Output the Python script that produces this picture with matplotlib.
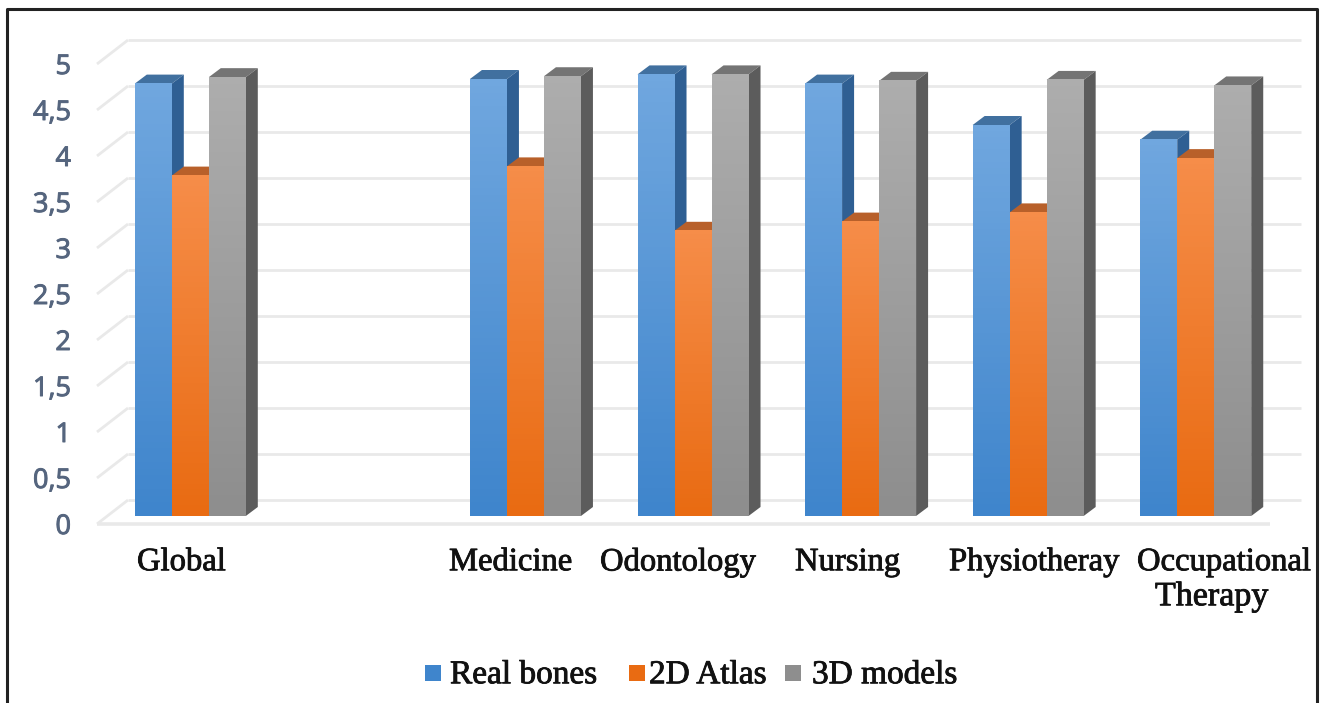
import matplotlib

matplotlib.use("Agg")

import matplotlib.patheffects as pe
import matplotlib.pyplot as plt
import numpy as np
from matplotlib.colors import LinearSegmentedColormap
from matplotlib.lines import Line2D
from matplotlib.patches import Polygon, Rectangle

W, H = 1322, 703

# one blank slot sits between Global and the faculties
categories = ["Global", "", "Medicine", "Odontology", "Nursing", "Physiotheray", "Occupational"]
real_bones = [4.7, np.nan, 4.75, 4.8, 4.7, 4.25, 4.09]
atlas_2d = [3.7, np.nan, 3.8, 3.1, 3.2, 3.3, 3.89]
models_3d = [4.77, np.nan, 4.78, 4.8, 4.73, 4.74, 4.68]
series_names = ["Real bones", "2D Atlas", "3D models"]
yticks = [0, 0.5, 1, 1.5, 2, 2.5, 3, 3.5, 4, 4.5, 5]
ytick_labels = ["0", "0,5", "1", "1,5", "2", "2,5", "3", "3,5", "4", "4,5", "5"]

# (front top, front bottom, side top, side bottom, cap)
palette = [
    ("#70A7DF", "#3F85CC", "#3D6A9C", "#2F5F93", "#41709F"),
    ("#F68D49", "#E96B12", "#B05A22", "#A04E18", "#B8602A"),
    ("#ADADAD", "#8E8E8E", "#727272", "#5C5C5C", "#747474"),
]
GRID = "#E9E9E9"
TICK_COLOR = "#55657E"

fig = plt.figure(figsize=(W / 100, H / 100), dpi=100, facecolor="white")

# axes box is the front floor edge up to the value 5, depth is faked with offsets
left, right, base, top = 97, 1270, 524, 64
ax = fig.add_axes([left / W, 1 - base / H, (right - left) / W, (base - top) / H])
ax.set_xlim(0, len(categories))
ax.set_ylim(0, 5)
ax.axis("off")

px_x = len(categories) / (right - left)
px_y = 5 / (base - top)
depth_x, depth_y = 31 * px_x, 24 * px_y  # whole floor depth
bar_w = 37 * px_x
bar_dx, bar_dy = 10 * px_x, 8 * px_y  # gap from the front floor edge
side_x, side_y = 12 * px_x, 9 * px_y  # depth of a bar


def line(xs, ys, color=GRID, lw=2.0, z=1):
    ax.add_line(Line2D(xs, ys, color=color, lw=lw, clip_on=False, zorder=z, solid_capstyle="butt"))


n = len(categories)
for v in yticks:
    line([0, depth_x], [v, v + depth_y])
    line([depth_x, n + depth_x], [v + depth_y, v + depth_y])
line([0, n], [0, 0], lw=2.6)

series = [real_bones, atlas_2d, models_3d]
z = 3
for i in range(n):
    if not categories[i]:
        continue
    x0 = i + (167.6 - 3 * 37) / 2 * px_x + bar_dx - 0.5 * px_x
    for s, values in enumerate(series):
        v = values[i]
        c_top, c_bot, c_side_t, c_side_b, c_cap = palette[s]
        xl = x0 + s * bar_w
        xr = xl + bar_w
        yb, yt = bar_dy, bar_dy + v

        # cap and side first, the front face goes over them
        ax.add_patch(Polygon([(xl, yt), (xr, yt), (xr + side_x, yt + side_y), (xl + side_x, yt + side_y)],
                             facecolor=c_cap, edgecolor="none", zorder=z, clip_on=False))
        side = Polygon([(xr, yb), (xr + side_x, yb + side_y), (xr + side_x, yt + side_y), (xr, yt)],
                       facecolor=c_side_b, edgecolor="none", zorder=z, clip_on=False)
        ax.add_patch(side)
        z += 1
        ax.bar(xl, v, width=bar_w, bottom=yb, align="edge", color=c_bot, zorder=z, clip_on=False)
        cmap = LinearSegmentedColormap.from_list("face", [c_top, c_bot])
        ax.imshow(np.linspace(0, 1, 64).reshape(-1, 1), cmap=cmap, aspect="auto",
                  extent=(xl, xr, yb, yt), origin="upper", zorder=z + 0.5, clip_on=False)
        z += 1

ax.set_xlim(0, n)
ax.set_ylim(0, 5)

# heavier strokes on all text, the label type is quite dark
tick_fx = [pe.withStroke(linewidth=0.7, foreground=TICK_COLOR)]
for v, lab in zip(yticks, ytick_labels):
    ax.text(-26 * px_x, v - 3 * px_y, lab, ha="right", va="center", fontsize=19.5, color=TICK_COLOR,
            family="Open Sans", clip_on=False, path_effects=tick_fx)

serif_fx = [pe.withStroke(linewidth=0.6, foreground="#111111")]


def ftext(x, y, s, **kw):
    fig.text(x / W, 1 - y / H, s, family="Liberation Serif", color="#111111", va="center",
             path_effects=serif_fx, **kw)


# label anchors in pixels, these do not follow the category slots
label_x = [137, None, 449, 600, 795, 949, 1137]
for name, x in zip(categories, label_x):
    if name:
        ftext(x, 562, name, fontsize=23.5, ha="left")
ftext(1155, 597, "Therapy", fontsize=24.5, ha="left")

legend_sq = [425, 629, 785]
legend_tx = [450, 649, 812]
for name, sq, tx, cols in zip(series_names, legend_sq, legend_tx, palette):
    fig.add_artist(Rectangle((sq / W, 1 - 681 / H), 16 / W, 16 / H, transform=fig.transFigure,
                             facecolor=cols[1], edgecolor="none"))
    ftext(tx, 675, name, fontsize=24, ha="left")

# hand-drawn frame, open along the bottom edge
fig.add_artist(Line2D([7 / W, 7 / W, 1317 / W, 1317 / W], [0, 1 - 9 / H, 1 - 9 / H, 0],
                      color="#222222", lw=2.2, transform=fig.transFigure))

fig.savefig("out.png", dpi=100)
plt.close(fig)
